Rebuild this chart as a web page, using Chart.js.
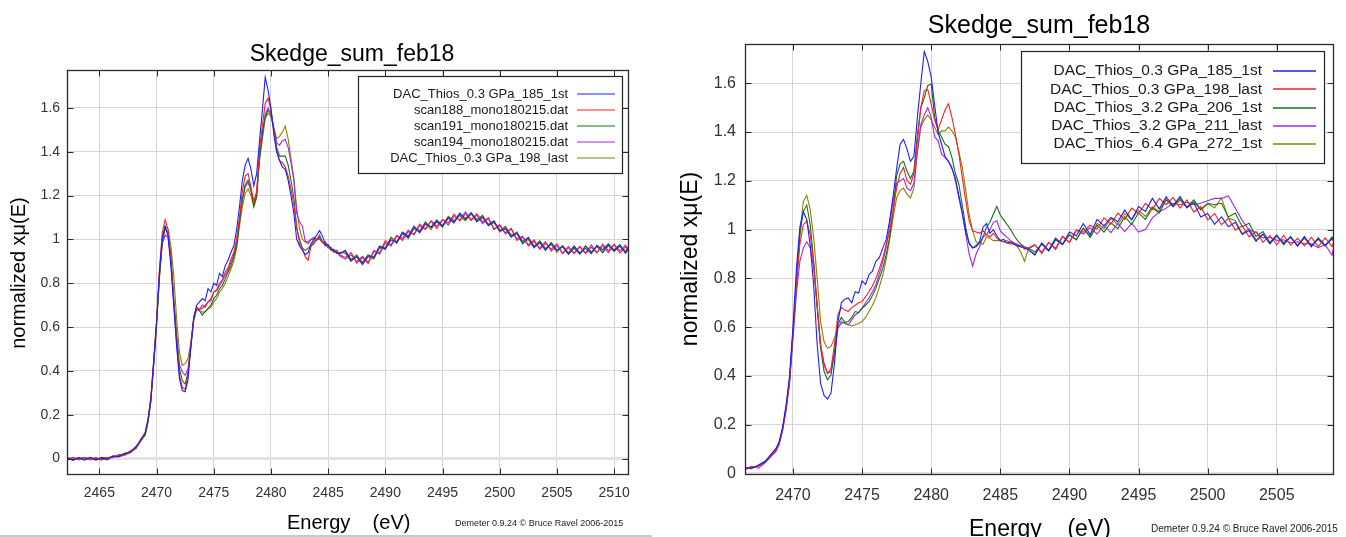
<!DOCTYPE html>
<html><head><meta charset="utf-8">
<script src="https://cdn.jsdelivr.net/npm/chart.js@4.4.1/dist/chart.umd.min.js"></script>
<style>
html,body{margin:0;padding:0;background:#fff;width:1346px;height:537px;overflow:hidden}
#wl{position:absolute;left:0;top:0;width:655px;height:537px}
#wr{position:absolute;left:680px;top:0;width:666px;height:537px}
</style></head><body>
<div id="wl"><canvas id="cl" width="655" height="537"></canvas></div>
<div id="wr"><canvas id="cr" width="666" height="537"></canvas></div>
<script>
// ---------- LEFT CHART DATA ----------
const L_title = "Skedge_sum_feb18";
const L_names = ["DAC_Thios_0.3 GPa_185_1st","scan188_mono180215.dat","scan191_mono180215.dat","scan194_mono180215.dat","DAC_Thios_0.3 GPa_198_last"];
const L_xTicks = [2465,2470,2475,2480,2485,2490,2495,2500,2505,2510];
const L_yTicks = [0,0.2,0.4,0.6,0.8,1,1.2,1.4,1.6];
const L_E = [2462.2,2462.7,2463.2,2463.7,2464.2,2464.7,2465.2,2465.7,2466.2,2466.7,2467.2,2467.7,2468.2,2468.7,
2469,2469.25,2469.5,2469.75,2470,2470.25,2470.5,2470.75,2471,2471.25,
2471.5,2471.75,2472,2472.25,2472.5,2472.75,2473,2473.25,2473.5,2473.75,
2474,2474.25,2474.5,2474.75,2475,2475.25,2475.5,2475.75,2476,2476.25,
2476.5,2476.75,2477,2477.25,2477.5,2477.75,2478,2478.25,2478.5,2478.75,
2479,2479.25,2479.5,2479.75,2480,2480.25,2480.5,2480.75,2481,2481.25,
2481.5,2481.75,2482,2482.25,2482.5,2482.75,2483,2483.25,2483.5,2483.75,
2484,2484.25,2484.5,2484.75,2485,2485.25,2485.5,2485.75,2486,
2486.5,2487,2487.5,2488,2488.5,2489,2489.5,2490,2490.5,2491,
2491.5,2492,2492.5,2493,2493.5,2494,2494.5,2495,2495.5,2496,
2496.5,2497,2497.5,2498,2498.5,2499,2499.5,2500,2500.5,2501,
2501.5,2502,2502.5,2503,2503.5,2504,2504.5,2505,2505.5,2506,
2506.5,2507,2507.5,2508,2508.5,2509,2509.5,2510,2510.5,2511,2511.3];
const L_s1 = [0.002,-0.008,0.004,-0.003,0.006,-0.005,0.003,-0.006,0.012,0.008,0.022,0.028,0.052,0.095,
0.115,0.175,0.27,0.44,0.62,0.85,1.01,1.06,1.015,0.88,
0.70,0.515,0.365,0.31,0.305,0.36,0.51,0.64,0.70,0.715,
0.73,0.72,0.775,0.76,0.80,0.79,0.845,0.83,0.88,0.905,
0.94,0.97,1.045,1.15,1.27,1.34,1.37,1.32,1.245,1.30,
1.45,1.59,1.74,1.68,1.60,1.48,1.40,1.36,1.33,1.32,
1.27,1.20,1.12,1.00,0.97,0.95,0.93,0.94,0.98,1.00,
1.02,1.04,1.015,0.98,0.975,0.955,0.95,0.94,0.935,
0.95,0.905,0.92,0.885,0.925,0.92,0.97,0.957,0.998,0.985,
1.033,1.013,1.06,1.03,1.07,1.057,1.088,1.061,1.097,1.075,
1.12,1.095,1.121,1.082,1.10,1.065,1.085,1.041,1.048,1.01,
1.03,0.99,1.01,0.965,0.985,0.95,0.983,0.95,0.967,0.934,
0.97,0.936,0.96,0.935,0.973,0.952,0.98,0.947,0.97,0.937,0.965];
const L_s2 = [-0.004,0.006,-0.006,0.005,-0.002,0.004,-0.007,0.006,0.004,0.018,0.016,0.035,0.048,0.09,
0.12,0.18,0.28,0.45,0.63,0.86,1.03,1.09,1.045,0.91,
0.71,0.53,0.38,0.325,0.315,0.38,0.52,0.645,0.69,0.68,
0.70,0.69,0.715,0.73,0.76,0.77,0.80,0.815,0.85,0.87,
0.91,0.94,1.0,1.10,1.22,1.29,1.30,1.24,1.17,1.22,
1.41,1.52,1.62,1.645,1.59,1.50,1.40,1.36,1.35,1.33,
1.29,1.23,1.16,1.06,0.98,0.96,0.92,0.905,0.97,0.99,
1.0,1.0,0.985,0.99,0.965,0.96,0.945,0.95,0.93,
0.918,0.94,0.892,0.917,0.89,0.945,0.94,0.995,0.975,1.018,
0.995,1.035,1.025,1.07,1.048,1.083,1.05,1.091,1.075,1.115,
1.085,1.117,1.086,1.118,1.08,1.10,1.047,1.068,1.028,1.05,
0.995,1.01,0.975,0.998,0.955,0.982,0.955,0.98,0.937,0.967,
0.938,0.968,0.935,0.965,0.938,0.978,0.948,0.977,0.938,0.967,0.945];
const L_s3 = [0.005,-0.003,0.002,-0.007,0.003,-0.004,0.006,0.002,0.008,0.012,0.024,0.03,0.055,0.088,
0.11,0.17,0.265,0.43,0.61,0.83,0.99,1.05,1.03,0.925,
0.73,0.56,0.41,0.355,0.34,0.395,0.51,0.63,0.68,0.675,
0.655,0.67,0.685,0.70,0.73,0.745,0.775,0.79,0.82,0.85,
0.88,0.92,0.97,1.08,1.18,1.25,1.27,1.23,1.15,1.20,
1.37,1.49,1.56,1.59,1.58,1.50,1.42,1.38,1.38,1.38,
1.34,1.27,1.19,1.05,1.0,0.96,0.95,0.96,0.97,0.98,
1.0,1.01,0.99,0.975,0.97,0.95,0.955,0.935,0.94,
0.938,0.90,0.925,0.895,0.93,0.915,0.962,0.955,1.008,0.99,
1.03,1.005,1.05,1.035,1.08,1.053,1.08,1.056,1.103,1.08,
1.11,1.085,1.121,1.09,1.11,1.062,1.077,1.038,1.06,1.02,
1.027,0.98,1.005,0.968,0.993,0.955,0.985,0.95,0.97,0.932,
0.96,0.933,0.97,0.943,0.968,0.94,0.975,0.952,0.976,0.94,0.967];
const L_s4 = [-0.006,0.004,-0.002,0.006,-0.006,0.002,-0.003,0.004,0.010,0.014,0.02,0.033,0.05,0.092,
0.11,0.17,0.27,0.44,0.62,0.84,0.98,1.02,1.01,0.91,
0.73,0.56,0.43,0.395,0.38,0.41,0.52,0.64,0.69,0.68,
0.685,0.70,0.715,0.72,0.76,0.765,0.79,0.81,0.835,0.86,
0.895,0.93,0.99,1.09,1.18,1.24,1.26,1.22,1.17,1.21,
1.38,1.47,1.57,1.60,1.56,1.51,1.44,1.43,1.45,1.456,
1.42,1.35,1.27,1.12,1.08,1.06,0.99,0.98,1.0,1.01,
1.0,1.02,0.99,0.97,0.975,0.955,0.94,0.95,0.925,
0.91,0.93,0.898,0.923,0.895,0.95,0.932,0.985,0.97,1.015,
1.005,1.043,1.02,1.062,1.045,1.085,1.06,1.091,1.065,1.105,
1.088,1.125,1.091,1.11,1.072,1.095,1.045,1.063,1.025,1.048,
1.003,1.015,0.97,0.99,0.96,0.99,0.947,0.972,0.935,0.962,
0.935,0.966,0.938,0.975,0.94,0.97,0.94,0.977,0.948,0.975,0.94];
const L_s5 = [0.003,-0.005,0.005,-0.004,0.001,-0.008,0.002,-0.002,0.006,0.01,0.014,0.026,0.045,0.085,
0.105,0.165,0.26,0.43,0.61,0.82,0.99,1.06,1.05,0.97,
0.835,0.64,0.486,0.425,0.433,0.456,0.53,0.64,0.69,0.675,
0.668,0.67,0.683,0.69,0.714,0.73,0.76,0.775,0.80,0.83,
0.865,0.90,0.96,1.06,1.15,1.21,1.23,1.20,1.15,1.19,
1.36,1.46,1.55,1.577,1.56,1.51,1.46,1.47,1.49,1.517,
1.46,1.37,1.28,1.14,1.05,1.0,0.99,0.99,1.0,1.0,
0.995,1.01,0.985,0.98,0.96,0.965,0.945,0.94,0.935,
0.945,0.91,0.93,0.89,0.92,0.91,0.965,0.963,1.01,0.982,
1.025,1.01,1.058,1.04,1.072,1.045,1.085,1.064,1.105,1.085,
1.118,1.09,1.116,1.08,1.105,1.07,1.083,1.033,1.052,1.015,
1.035,0.982,1.0,0.96,0.99,0.96,0.977,0.94,0.973,0.94,
0.965,0.938,0.97,0.94,0.97,0.94,0.97,0.944,0.973,0.945,0.975];

// ---------- RIGHT CHART DATA ----------
const R_title = "Skedge_sum_feb18";
const R_names = ["DAC_Thios_0.3 GPa_185_1st","DAC_Thios_0.3 GPa_198_last","DAC_Thios_3.2 GPa_206_1st","DAC_Thios_3.2 GPa_211_last","DAC_Thios_6.4 GPa_272_1st"];
const R_xTicks = [2470,2475,2480,2485,2490,2495,2500,2505];
const R_yTicks = [0,0.2,0.4,0.6,0.8,1,1.2,1.4,1.6];
const R_E = [2466.5,2467,2467.5,2468,2468.5,
2468.75,2469,2469.25,2469.5,2469.75,2470,2470.25,2470.5,2470.75,2471,
2471.25,2471.5,2471.75,2472,2472.25,2472.5,2472.75,2473,2473.25,2473.5,
2473.75,2474,2474.25,2474.5,2474.75,2475,2475.25,2475.5,2475.75,2476,
2476.25,2476.5,2476.75,2477,2477.25,2477.5,2477.75,2478,2478.25,2478.5,
2478.75,2479,2479.25,2479.5,2479.75,2480,2480.25,2480.5,2480.75,2481,
2481.25,2481.5,2481.75,2482,2482.25,2482.5,2482.75,2483,2483.25,2483.5,
2483.75,2484,2484.25,2484.5,2484.75,2485,2485.25,2485.5,2485.75,2486,
2486.25,2486.5,2486.75,2487,
2487.5,2488,2488.5,2489,2489.5,2490,2490.5,2491,2491.5,2492,
2492.5,2493,2493.5,2494,2494.5,2495,2495.5,2496,2496.5,2497,
2497.5,2498,2498.5,2499,2499.5,2500,2500.5,2501,2501.5,2502,
2502.5,2503,2503.5,2504,2504.5,2505,2505.5,2506,2506.5,2507,
2507.5,2508,2508.5,2509,2509.2];
const R_s1 = [0.025,0.02,0.035,0.05,0.085,
0.10,0.13,0.19,0.28,0.40,0.60,0.84,1.01,1.075,1.04,
0.935,0.77,0.53,0.37,0.32,0.305,0.33,0.45,0.62,0.70,
0.715,0.72,0.70,0.745,0.74,0.79,0.775,0.815,0.83,0.87,
0.885,0.925,0.96,1.04,1.14,1.25,1.35,1.37,1.33,1.28,
1.30,1.46,1.60,1.73,1.69,1.625,1.51,1.40,1.35,1.30,
1.28,1.25,1.21,1.14,1.07,0.99,0.945,0.925,0.935,0.95,
1.01,1.025,0.985,1.0,0.975,0.955,0.96,0.945,0.95,0.94,
0.935,0.93,0.925,0.92,
0.895,0.945,0.915,0.965,0.94,0.99,0.975,1.025,0.98,1.042,
1.015,1.05,1.032,1.08,1.04,1.095,1.075,1.128,1.085,1.135,
1.098,1.136,1.09,1.11,1.052,1.066,1.022,1.052,1.012,1.03,
0.98,0.996,0.952,0.982,0.942,0.975,0.945,0.97,0.933,0.972,
0.93,0.966,0.935,0.962,0.948];
const R_s2 = [0.02,0.028,0.03,0.052,0.08,
0.095,0.125,0.18,0.27,0.38,0.58,0.78,0.94,1.02,1.035,
0.98,0.86,0.69,0.527,0.445,0.41,0.43,0.527,0.65,0.68,
0.67,0.665,0.68,0.69,0.70,0.705,0.725,0.745,0.77,0.80,
0.84,0.884,0.94,0.995,1.08,1.17,1.23,1.255,1.2,1.186,
1.23,1.36,1.50,1.57,1.575,1.515,1.45,1.41,1.45,1.49,
1.515,1.46,1.39,1.31,1.214,1.118,1.036,0.995,0.99,0.985,
0.995,0.98,0.97,0.985,0.965,0.953,0.95,0.946,0.94,0.945,
0.93,0.935,0.92,0.925,
0.938,0.902,0.948,0.918,0.972,0.948,0.998,0.99,1.018,1.002,
1.048,1.022,1.068,1.042,1.088,1.066,1.108,1.082,1.128,1.102,
1.132,1.088,1.122,1.072,1.094,1.04,1.066,1.02,1.046,0.998,
1.016,0.97,0.992,0.948,0.976,0.938,0.976,0.936,0.964,0.934,
0.968,0.93,0.966,0.93,0.962];
const R_s3 = [0.022,0.025,0.03,0.048,0.082,
0.10,0.125,0.185,0.27,0.38,0.58,0.79,0.98,1.075,1.10,
1.02,0.87,0.678,0.514,0.418,0.384,0.404,0.50,0.61,0.64,
0.62,0.623,0.64,0.664,0.66,0.678,0.69,0.705,0.73,0.76,
0.80,0.842,0.90,0.97,1.08,1.22,1.27,1.28,1.24,1.21,
1.24,1.39,1.50,1.54,1.59,1.597,1.46,1.405,1.38,1.35,
1.34,1.296,1.23,1.186,1.10,1.01,0.94,0.925,0.93,0.945,
0.97,1.01,1.03,1.064,1.095,1.06,1.04,1.02,1.0,0.975,
0.955,0.94,0.93,0.925,
0.908,0.942,0.912,0.958,0.938,0.978,0.958,1.006,0.968,1.018,
0.99,1.028,1.004,1.053,1.022,1.068,1.042,1.088,1.068,1.122,
1.094,1.128,1.092,1.122,1.084,1.108,1.102,1.108,1.052,1.068,
1.012,1.026,0.972,0.992,0.948,0.978,0.938,0.972,0.934,0.968,
0.932,0.962,0.934,0.97,0.94];
const R_s4 = [0.015,0.03,0.022,0.045,0.075,
0.09,0.12,0.18,0.26,0.37,0.55,0.74,0.87,0.925,0.95,
0.925,0.84,0.69,0.527,0.452,0.41,0.418,0.486,0.596,0.623,
0.615,0.61,0.63,0.65,0.66,0.678,0.70,0.72,0.745,0.774,
0.82,0.87,0.93,1.02,1.12,1.19,1.2,1.21,1.17,1.16,
1.19,1.32,1.43,1.47,1.50,1.46,1.38,1.365,1.31,1.296,
1.28,1.255,1.20,1.13,1.063,0.98,0.90,0.85,0.9,0.93,
0.97,0.98,1.0,1.03,1.036,0.995,0.98,0.967,0.955,0.945,
0.94,0.93,0.925,0.92,
0.936,0.908,0.946,0.924,0.972,0.948,0.998,0.982,1.008,0.982,
1.018,0.988,1.026,0.992,1.026,0.99,1.0,1.048,1.072,1.088,
1.108,1.102,1.112,1.102,1.108,1.118,1.128,1.128,1.138,1.088,
1.038,0.998,0.988,0.966,0.968,0.956,0.958,0.946,0.95,0.942,
0.942,0.926,0.938,0.895,0.95];
const R_s5 = [0.018,0.022,0.032,0.046,0.078,
0.09,0.12,0.175,0.26,0.37,0.57,0.76,0.98,1.116,1.14,
1.082,0.966,0.80,0.623,0.54,0.514,0.52,0.555,0.596,0.615,
0.62,0.61,0.605,0.61,0.615,0.623,0.64,0.664,0.69,0.72,
0.765,0.815,0.88,0.96,1.05,1.13,1.16,1.17,1.145,1.13,
1.17,1.32,1.42,1.45,1.47,1.45,1.42,1.39,1.405,1.405,
1.42,1.405,1.38,1.32,1.255,1.16,1.06,0.995,0.95,0.945,
0.94,0.97,0.965,0.955,0.955,0.955,0.95,0.955,0.945,0.94,
0.93,0.905,0.87,0.915,
0.90,0.94,0.915,0.96,0.94,0.98,0.96,1.006,0.974,1.026,
1.004,1.046,1.02,1.066,1.042,1.08,1.054,1.094,1.074,1.126,
1.094,1.12,1.09,1.115,1.08,1.106,1.09,1.13,1.046,1.038,
0.984,1.004,0.958,0.982,0.944,0.974,0.94,0.968,0.934,0.964,
0.936,0.96,0.932,0.966,0.945];

const COLORS = ['rgb(30,30,255)','rgb(255,30,30)','rgb(20,115,20)','rgb(160,40,235)','rgb(140,128,0)'];

Chart.defaults.font.family = "'Liberation Sans', Arial, sans-serif";

function pts(E, v){ return E.map((e,i)=>({x:e, y:v[i]})); }

const framePlugin = {
  id:'frame',
  afterDraw(chart){
    const o = chart.options.plugins.frame;
    const {ctx, chartArea:a, scales:{x,y}} = chart;
    ctx.save();
    ctx.strokeStyle = '#2a2a2a'; ctx.lineWidth = 1;
    const L=Math.round(a.left)+0.5, R=Math.round(a.right)-0.5, T=Math.round(a.top)+0.5, B=Math.round(a.bottom)-0.5;
    ctx.beginPath();
    x.ticks.forEach(t=>{ const p=Math.round(x.getPixelForValue(t.value))+0.5;
      ctx.moveTo(p,B); ctx.lineTo(p,B-o.tick); ctx.moveTo(p,T); ctx.lineTo(p,T+o.tick); });
    y.ticks.forEach(t=>{ const p=Math.round(y.getPixelForValue(t.value))+0.5;
      ctx.moveTo(L,p); ctx.lineTo(L+o.tick,p); ctx.moveTo(R,p); ctx.lineTo(R-o.tick,p); });
    ctx.stroke();
    ctx.lineWidth = 1.3;
    ctx.strokeRect(L,T,R-L,B-T);
    // legend
    const g = o.legend;
    ctx.fillStyle='#fff'; ctx.fillRect(g.x1,g.y1,g.x2-g.x1,g.y2-g.y1);
    ctx.lineWidth=1.2; ctx.strokeStyle='#222'; ctx.strokeRect(g.x1+0.5,g.y1+0.5,g.x2-g.x1,g.y2-g.y1);
    ctx.font = g.size+"px 'Liberation Sans', Arial, sans-serif";
    ctx.textAlign='right'; ctx.textBaseline='middle';
    chart.data.datasets.forEach((d,i)=>{
      const yy = g.row0 + i*g.gap;
      ctx.fillStyle='#1a1a1a'; ctx.fillText(d.label, g.tx, yy);
      ctx.strokeStyle=d.borderColor; ctx.lineWidth=g.lw;
      ctx.beginPath(); ctx.moveTo(g.l1, Math.round(yy)); ctx.lineTo(g.l2, Math.round(yy)); ctx.stroke();
    });
    // titles
    ctx.fillStyle='#000';
    ctx.textAlign='center'; ctx.textBaseline='alphabetic';
    ctx.font = o.title.size+"px 'Liberation Sans', Arial, sans-serif";
    ctx.fillText(o.title.text, o.title.x, o.title.y);
    ctx.textAlign='left';
    ctx.font = o.xt.size+"px 'Liberation Sans', Arial, sans-serif";
    ctx.fillText(o.xt.text, o.xt.x, o.xt.y);
    ctx.save();
    ctx.translate(o.yt.x, o.yt.y); ctx.rotate(-Math.PI/2);
    ctx.textAlign='center'; ctx.textBaseline='middle';
    ctx.font = o.yt.size+"px 'Liberation Sans', Arial, sans-serif";
    ctx.fillText(o.yt.text, 0, 0);
    ctx.restore();
    ctx.font = o.cr.size+"px 'Liberation Sans', Arial, sans-serif";
    ctx.fillStyle='#222'; ctx.textAlign='left';
    ctx.fillText('Demeter 0.9.24 \u00a9 Bruce Ravel 2006-2015', o.cr.x, o.cr.y);
    if (o.strip){ ctx.fillStyle='#c9c9c9'; ctx.fillRect(0,535,o.strip,2); }
    ctx.restore();
  }
};

function build(id, E, series, names, xT, yT, g){
  const ds = series.map((s,i)=>({label:names[i], data:pts(E,s), borderColor:COLORS[i], borderWidth:1.1, pointRadius:0, tension:0, fill:false}));
  return new Chart(document.getElementById(id), {
    type:'line',
    data:{datasets:ds},
    plugins:[framePlugin],
    options:{
      responsive:false, animation:false, events:[],
      layout:{padding:{left:0, top:g.top, right:g.right, bottom:0}},
      plugins:{legend:{display:false}, tooltip:{enabled:false}, frame:g.frame},
      scales:{
        x:{type:'linear', min:g.xmin, max:g.xmax,
           afterFit:s=>{s.height=g.xh;},
           afterBuildTicks:s=>{s.ticks=xT.map(v=>({value:v}));},
           ticks:{autoSkip:false, maxRotation:0, padding:g.xpad, color:'#333', font:{size:g.fs}, callback:v=>String(v)},
           grid:{color:'rgb(214,214,214)', lineWidth:1, drawTicks:false}, border:{display:false}},
        y:{type:'linear', min:g.ymin, max:g.ymax,
           afterFit:s=>{s.width=g.yw;},
           afterBuildTicks:s=>{s.ticks=yT.map(v=>({value:v}));},
           ticks:{padding:g.ypad, color:'#333', font:{size:g.fs}, callback:v=>String(v)},
           grid:{color:c=>c.tick && c.tick.value===0?'rgb(226,226,226)':'rgb(214,214,214)', lineWidth:c=>c.tick && c.tick.value===0?3:1, drawTicks:false}, border:{display:false}}
      }
    }
  });
}

build('cl', L_E, [L_s1,L_s2,L_s3,L_s4,L_s5], L_names, L_xTicks, L_yTicks, {
  top:70, right:26, xh:62, yw:67, xmin:2462.17, xmax:2511.3, ymin:-0.075, ymax:1.773, fs:14, xpad:10, ypad:7,
  frame:{tick:6,
    legend:{x1:358,y1:76,x2:622,y2:173,size:13,tx:568,row0:94,gap:16,l1:577,l2:615,lw:1.2},
    title:{text:L_title,size:23,x:352,y:61},
    xt:{text:'Energy    (eV)',size:20,x:287,y:529},
    yt:{text:'normalized x\u03bc(E)',size:20,x:19,y:273},
    cr:{size:9,x:455,y:526},
    strip:652}
});
build('cr', R_E, [R_s1,R_s2,R_s3,R_s4,R_s5], R_names, R_xTicks, R_yTicks, {
  top:44, right:12, xh:62, yw:65, xmin:2466.53, xmax:2509.14, ymin:-0.006, ymax:1.761, fs:16, xpad:11, ypad:9,
  frame:{tick:6,
    legend:{x1:341,y1:51,x2:644,y2:163,size:15.5,tx:582,row0:71,gap:18.3,l1:593,l2:636,lw:1.6},
    title:{text:R_title,size:25,x:359,y:33},
    xt:{text:'Energy    (eV)',size:23,x:289,y:536},
    yt:{text:'normalized x\u03bc(E)',size:23,x:11,y:259},
    cr:{size:10,x:471,y:532},
    strip:0}
});
</script>
</body></html>
